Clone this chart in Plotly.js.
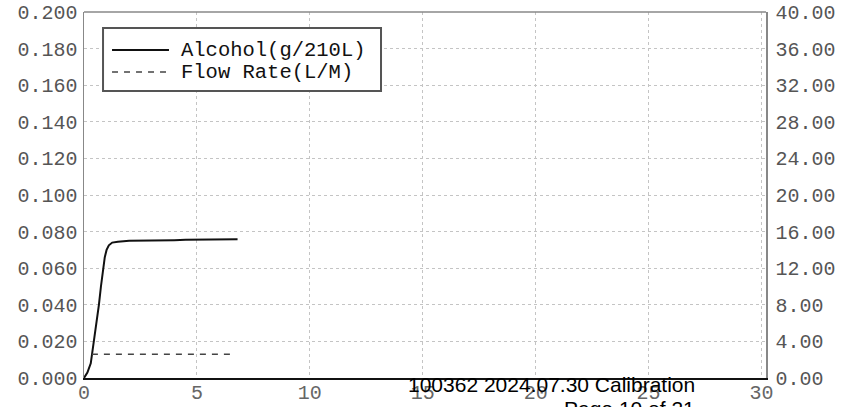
<!DOCTYPE html>
<html>
<head>
<meta charset="utf-8">
<script src="https://cdn.plot.ly/plotly-3.0.1.min.js"></script>
<style>html,body{margin:0;padding:0;background:#fff;}#chart{width:847px;height:407px;}</style>
</head>
<body>
<div id="chart"></div>
<script>
// Alcohol (g/210L) vs time (s)
const alcoholTime = [0, 0.15, 0.3, 0.44, 0.55, 0.66, 0.75, 0.84, 0.92, 1.0, 1.1, 1.25, 1.5, 2, 2.5, 3, 3.5, 4, 4.5, 5, 5.5, 6, 6.5, 6.8];
const alcoholValues = [0, 0.003, 0.008, 0.020, 0.030, 0.040, 0.050, 0.060, 0.066, 0.070, 0.0725, 0.074, 0.0745, 0.0750, 0.0750, 0.0752, 0.0754, 0.0753, 0.0755, 0.0756, 0.0756, 0.0757, 0.0758, 0.0758];
// Flow rate (L/M) vs time (s)
const flowTime = [0.35, 1, 2, 3, 4, 5, 6, 6.7];
const flowValues = [2.6, 2.6, 2.6, 2.6, 2.6, 2.6, 2.6, 2.6];
// tick labels
const xTicks = [0, 5, 10, 15, 20, 25, 30];
const legendNames = ["Alcohol(g/210L)", "Flow Rate(L/M)"];
const footerLines = ["100362 2024.07.30 Calibration", "Page 10 of 21"];

const mono = "Courier New, Liberation Mono, monospace";
const traces = [
  {x: alcoholTime, y: alcoholValues, type: 'scatter', mode: 'lines', name: legendNames[0],
   line: {color: '#111', width: 2}, yaxis: 'y'},
  {x: flowTime, y: flowValues, type: 'scatter', mode: 'lines', name: legendNames[1],
   line: {color: '#444', width: 1.5, dash: '6px,6px'}, yaxis: 'y2'}
];

const layout = {
  width: 847, height: 407,
  margin: {l: 84, r: 81, t: 12, b: 29},
  paper_bgcolor: '#fff', plot_bgcolor: '#fff',
  showlegend: false,
  font: {family: mono, size: 20, color: '#444'},
  xaxis: {range: [0, 30.2], tickvals: xTicks, ticktext: xTicks.map(String),
          showgrid: true, gridcolor: '#c4c4c4', griddash: 'dot', gridwidth: 1,
          zeroline: false, showline: true, linecolor: '#111', linewidth: 2,
          ticks: '', ticklabelstandoff: -5, tickfont: {family: mono, size: 20, color: '#666'}},
  yaxis: {range: [0, 0.2], dtick: 0.02, tickformat: '.3f',
          showgrid: true, gridcolor: '#c4c4c4', griddash: 'dot', gridwidth: 1,
          zeroline: false, showline: true, linecolor: '#888', linewidth: 1.5,
          ticks: '', ticklabelstandoff: 1, tickfont: {family: mono, size: 20, color: '#555'}},
  yaxis2: {range: [0, 40], dtick: 4, tickformat: '.2f', overlaying: 'y', side: 'right',
           showgrid: false, zeroline: false, showline: true, linecolor: '#888', linewidth: 1.5,
           ticks: '', ticklabelstandoff: 4, tickfont: {family: mono, size: 20, color: '#555'}},
  shapes: [
    {type: 'line', xref: 'paper', yref: 'paper', x0: 0, x1: 1, y0: 1, y1: 1, line: {color: '#888', width: 1.5}},
    {type: 'rect', xref: 'paper', yref: 'paper', x0: 0.0279, x1: 0.4355, y0: 0.784, y1: 0.956,
     line: {color: '#555', width: 2}, fillcolor: '#fff'},
    {type: 'line', xref: 'paper', yref: 'paper', x0: 0.0411, x1: 0.1246, y0: 0.896, y1: 0.896,
     line: {color: '#111', width: 2}},
    {type: 'line', xref: 'paper', yref: 'paper', x0: 0.0411, x1: 0.1246, y0: 0.836, y1: 0.836,
     line: {color: '#444', width: 1.5, dash: '6px,6px'}}
  ],
  annotations: [
    {xref: 'paper', yref: 'paper', x: 0.1393, y: 0.896, xanchor: 'left', yanchor: 'middle', showarrow: false,
     text: legendNames[0], font: {family: mono, size: 20.5, color: '#111'}},
    {xref: 'paper', yref: 'paper', x: 0.1393, y: 0.836, xanchor: 'left', yanchor: 'middle', showarrow: false,
     text: legendNames[1], font: {family: mono, size: 20.5, color: '#111'}},
    {xref: 'paper', yref: 'paper', x: 0.899, y: -0.019, xanchor: 'right', yanchor: 'middle', showarrow: false,
     text: footerLines[0], font: {family: 'Liberation Sans, Arial, sans-serif', size: 21, color: '#000'}},
    {xref: 'paper', yref: 'paper', x: 0.899, y: -0.082, xanchor: 'right', yanchor: 'middle', showarrow: false,
     text: footerLines[1], font: {family: 'Liberation Sans, Arial, sans-serif', size: 21, color: '#000'}}
  ]
};

Plotly.newPlot('chart', traces, layout, {displayModeBar: false, staticPlot: true});
</script>
</body>
</html>
